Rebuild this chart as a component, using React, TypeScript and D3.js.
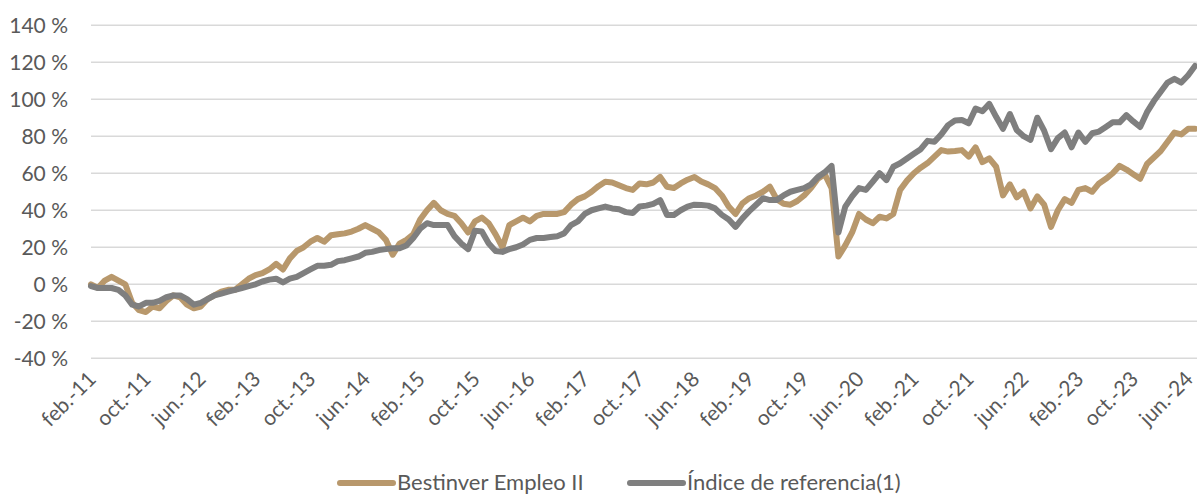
import React, { useEffect, useRef } from 'react';
import * as d3 from 'd3';

// monthly readings, feb.-11 .. end jun.-24 (% return)
const fund = [
  0, -2, 2, 4, 2, 0, -10, -14, -15, -12, -13, -9, -6, -7, -11, -13, -12, -8, -6, -4,
  -3, -3, 0, 3, 5, 6, 8, 11, 8, 14, 18, 20, 23, 25, 23, 26.5, 27, 27.5, 28.5, 30,
  32, 30, 28, 24, 16, 22, 24, 27, 35, 40, 44, 40, 38, 37, 33, 28, 34, 36, 33, 27,
  20, 32, 34, 36, 34, 37, 38, 38, 38, 39, 43, 46, 47.5, 50, 53, 55.4, 55, 53.5, 52, 51,
  54.5, 54, 55, 58, 52.7, 52, 54.5, 56.5, 58, 55.5, 54, 52, 48, 42, 38, 43.7, 46.5, 48, 50, 52.7,
  46, 43.5, 43, 45, 48, 52, 57, 59.5, 52, 15, 21, 28, 38, 35, 33, 36.5, 35.6, 38, 51, 56,
  60, 63, 65.5, 69, 72.5, 71.7, 72, 72.5, 69, 74, 66, 68, 63.5, 48, 54, 47, 50, 41, 47.5, 43,
  31, 40, 46, 44, 51, 52, 50, 54.5, 57, 60, 64, 62, 59.5, 57, 65, 68.5, 72, 77, 82, 81,
  84, 84,
];

const benchmark = [
  -1, -2, -2, -2, -3, -6, -11, -12, -10, -10, -9, -7, -6, -6, -8, -11, -10, -8, -6, -5,
  -4, -3, -2, -1, 0, 1.5, 2.5, 3, 1, 3, 4, 6, 8, 10, 10, 10.5, 12.5, 13, 14, 15,
  17, 17.5, 18.5, 19, 19.5, 19.5, 21, 25, 30, 33, 32, 32, 32, 26, 22, 19, 29, 28.5, 22, 18,
  17.5, 19, 20, 21.5, 24, 25, 25, 25.5, 26, 27.5, 32, 34, 38, 40, 41, 42, 41, 40.5, 39, 38.5,
  42, 42.5, 43.5, 45.5, 37.5, 37.4, 40, 42, 43, 42.8, 42.5, 41, 37.5, 35, 31, 35.6, 39.5, 43, 46.5, 45.5,
  45.5, 48, 50, 51, 52, 54, 58, 60.5, 64, 28, 42, 47.5, 52, 51, 55.4, 60, 56.3, 63.5, 65.4, 68,
  70.5, 73, 77.5, 77, 81, 86, 88.5, 88.8, 87, 95, 93.5, 97.5, 90.5, 84, 92, 83.4, 80, 78, 90, 83,
  73, 79, 82, 74, 82, 77, 81.6, 82.5, 85, 87.5, 87.5, 91.4, 88, 85, 93, 99, 104, 109, 111, 109,
  113, 118,
];

const xLabels = [
  'feb.-11', 'oct.-11', 'jun.-12', 'feb.-13', 'oct.-13', 'jun.-14', 'feb.-15', 'oct.-15',
  'jun.-16', 'feb.-17', 'oct.-17', 'jun.-18', 'feb.-19', 'oct.-19', 'jun.-20', 'feb.-21',
  'oct.-21', 'jun.-22', 'feb.-23', 'oct.-23', 'jun.-24',
];
const LABEL_STEP = 8; // months between labels

const yTicks = [-40, -20, 0, 20, 40, 60, 80, 100, 120, 140];

const seriesNames = ['Bestinver Empleo II', 'Índice de referencia(1)'];
const seriesColors = ['#b8986c', '#7f7f7f'];

const W = 1197;
const H = 494;
const FONT = 'Lato, "Open Sans", sans-serif';

export default function App() {
  const ref = useRef<SVGSVGElement>(null);

  useEffect(() => {
    const svg = d3.select(ref.current);
    svg.selectAll('*').remove();

    const x = d3.scaleLinear().domain([0, fund.length - 1]).range([91, 1195]);
    const y = d3.scaleLinear().domain([-40, 140]).range([358.3, 25.2]);

    // gridlines
    svg.append('g')
      .selectAll('line')
      .data(yTicks)
      .join('line')
      .attr('x1', 91)
      .attr('x2', W)
      .attr('y1', (d) => y(d))
      .attr('y2', (d) => y(d))
      .attr('stroke', '#d9d9d9')
      .attr('stroke-width', 1.5);

    // y labels
    svg.append('g')
      .selectAll('text')
      .data(yTicks)
      .join('text')
      .attr('x', 68)
      .attr('y', (d) => y(d))
      .attr('dy', '0.36em')
      .attr('text-anchor', 'end')
      .attr('fill', '#595959')
      .attr('font-family', FONT)
      .attr('font-size', 21)
      .text((d) => `${d} %`);

    // x labels
    svg.append('g')
      .selectAll('text')
      .data(xLabels)
      .join('text')
      .attr('transform', (d, i) => `translate(${x(i * LABEL_STEP) + 1},${375}) rotate(-45)`)
      .attr('text-anchor', 'end')
      .attr('dy', '0.36em')
      .attr('fill', '#595959')
      .attr('font-family', FONT)
      .attr('font-size', 21)
      .text((d) => d);

    const line = d3.line<number>()
      .x((d, i) => x(i))
      .y((d) => y(d));

    [fund, benchmark].forEach((s, k) => {
      svg.append('path')
        .datum(s)
        .attr('d', line)
        .attr('fill', 'none')
        .attr('stroke', seriesColors[k])
        .attr('stroke-width', 6)
        .attr('stroke-linejoin', 'round')
        .attr('stroke-linecap', 'round');
    });

    // legend
    const legendX = [340, 630];
    const lg = svg.append('g');
    seriesNames.forEach((name, k) => {
      lg.append('line')
        .attr('x1', legendX[k])
        .attr('x2', legendX[k] + 53)
        .attr('y1', 483)
        .attr('y2', 483)
        .attr('stroke', seriesColors[k])
        .attr('stroke-width', 6)
        .attr('stroke-linecap', 'round');
      lg.append('text')
        .attr('x', legendX[k] + 57)
        .attr('y', 482)
        .attr('dy', '0.36em')
        .attr('fill', '#595959')
        .attr('font-family', FONT)
        .attr('font-size', 22)
        .text(name);
    });
  }, []);

  return (
    <div style={{ position: 'absolute', left: 0, top: 0, width: W, height: H, background: '#fff' }}>
      <svg ref={ref} width={W} height={H} />
    </div>
  );
}
